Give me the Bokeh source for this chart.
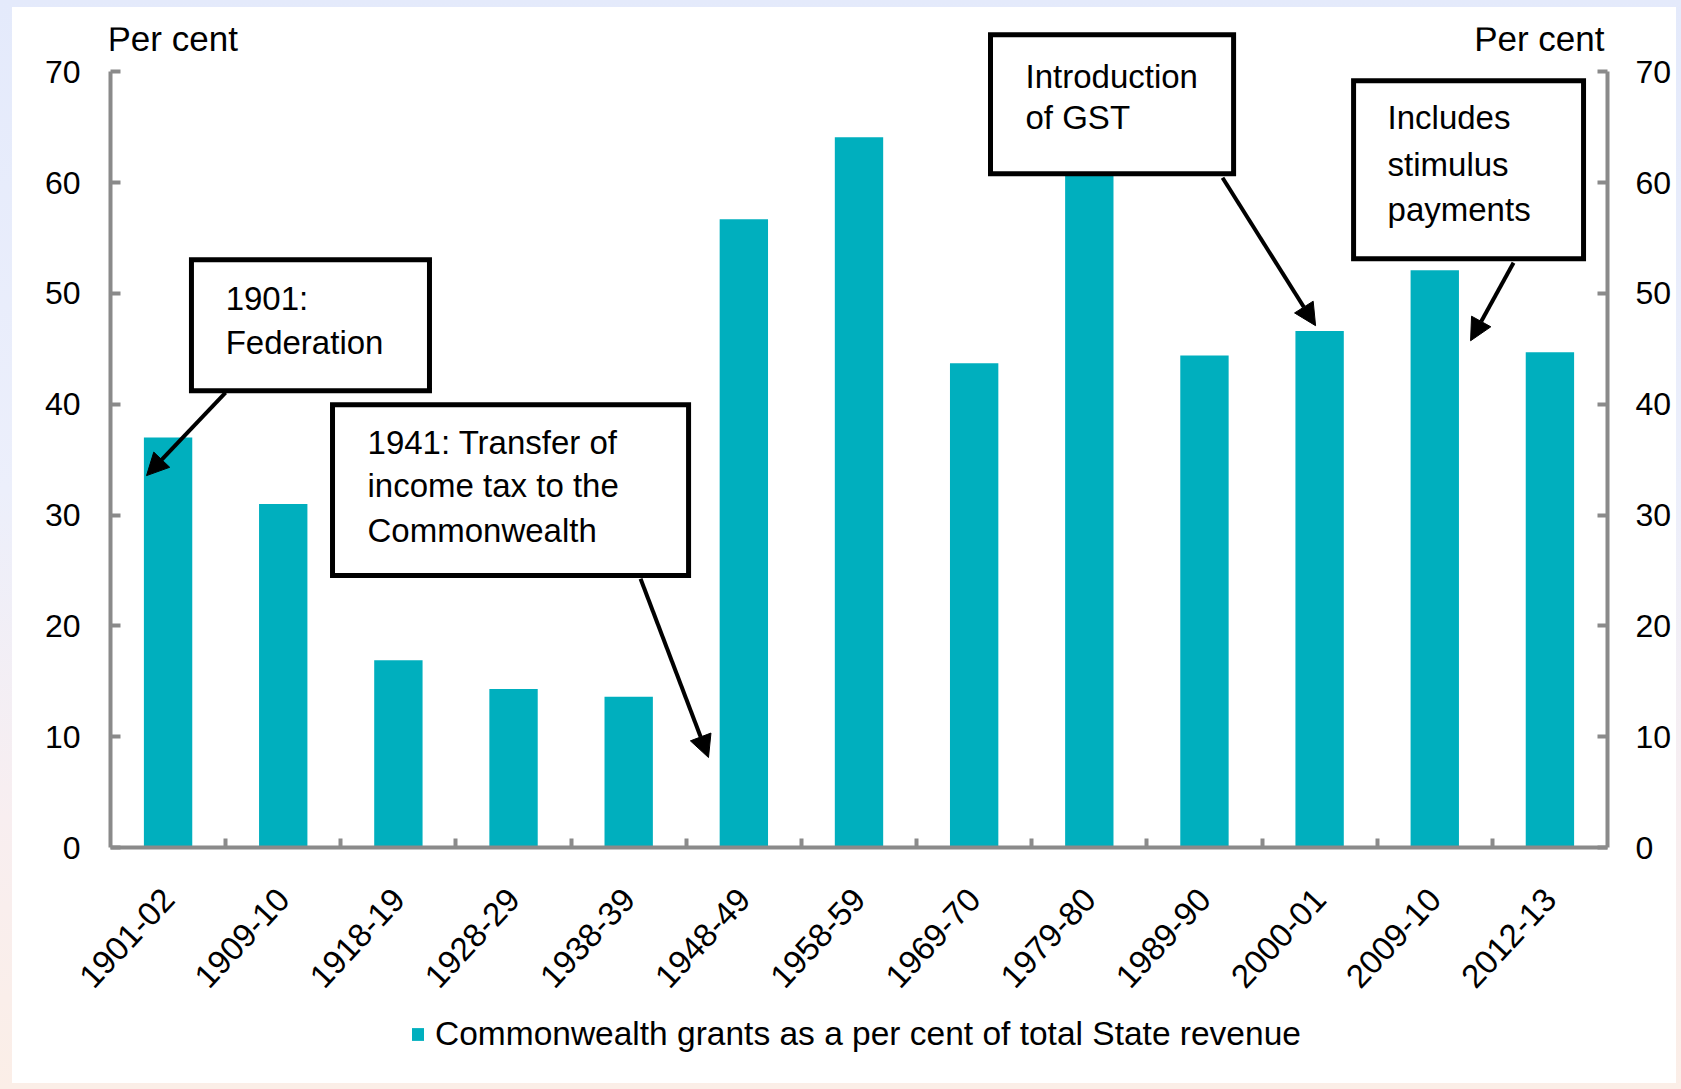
from bokeh.plotting import figure
from bokeh.layouts import column
from bokeh.models import (Range1d, LinearAxis, FixedTicker, Label, Arrow, NormalHead,
                          Legend, LegendItem, ColumnDataSource)
from bokeh.embed import file_html
from bokeh.resources import INLINE

# ---- data ----
categories = ["1901-02", "1909-10", "1918-19", "1928-29", "1938-39", "1948-49", "1958-59",
              "1969-70", "1979-80", "1989-90", "2000-01", "2009-10", "2012-13"]
grants_pct = [37.0, 31.0, 16.9, 14.3, 13.6, 56.7, 64.1, 43.7, 62.0, 44.4, 46.6, 52.1, 44.7]
y_ticks = [0, 10, 20, 30, 40, 50, 60, 70]
series_label = "Commonwealth grants as a per cent of total State revenue"
y_unit = "Per cent"

FONT = "Liberation Sans"
BAR = "#00AFBE"
AXIS = "#8A8A8A"
DY = 1.35  # baseline correction for Label text (data units)

n = len(categories)
xpos = [i + 0.5 for i in range(n)]
src = ColumnDataSource(dict(x=xpos, top=grants_pct, cat=categories))

# ---- main chart ----
p = figure(width=1664, height=998, output_backend="svg", toolbar_location=None,
           x_range=Range1d(0, n), y_range=Range1d(0, 74),
           min_border_left=98, min_border_right=69, min_border_top=20, min_border_bottom=158,
           x_axis_location=None, y_axis_location=None)
p.outline_line_color = None
p.background_fill_color = "white"
p.border_fill_color = "white"
p.xgrid.grid_line_color = None
p.ygrid.grid_line_color = None

xaxis = LinearAxis(ticker=FixedTicker(ticks=xpos, minor_ticks=list(range(1, n))),
                   major_label_overrides={x: c for x, c in zip(xpos, categories)})
xaxis.major_label_orientation = 0.82
xaxis.major_tick_line_color = None
xaxis.minor_tick_in = 9
xaxis.minor_tick_out = 0
xaxis.minor_tick_line_width = 4
xaxis.minor_tick_line_color = AXIS
xaxis.axis_line_width = 4
xaxis.axis_line_color = AXIS
xaxis.major_label_standoff = 40
xaxis.major_label_text_font = FONT
xaxis.major_label_text_font_size = "33px"
xaxis.major_label_text_color = "black"
p.add_layout(xaxis, "below")

for side, standoff in (("left", 30), ("right", 28)):
    ax = LinearAxis(ticker=FixedTicker(ticks=y_ticks), bounds=(0, 70))
    ax.major_tick_in = 10
    ax.major_tick_out = 0
    ax.major_tick_line_width = 4
    ax.major_tick_line_color = AXIS
    ax.minor_tick_line_color = None
    ax.axis_line_width = 4
    ax.axis_line_color = AXIS
    ax.major_label_standoff = standoff
    ax.major_label_text_font = FONT
    ax.major_label_text_font_size = "32px"
    ax.major_label_text_color = "black"
    p.add_layout(ax, side)

bars = p.vbar(x="x", top="top", width=0.42, bottom=0, source=src,
              fill_color=BAR, line_color=None)

p.add_layout(Label(x=-0.026, y=71.62 + DY, text=y_unit, text_font=FONT, text_font_size="35px",
                   text_align="left", text_baseline="alphabetic", text_color="black"))
p.add_layout(Label(x=12.974, y=71.62 + DY, text=y_unit, text_font=FONT, text_font_size="35px",
                   text_align="right", text_baseline="alphabetic", text_color="black"))

boxes = dict(left=[0.703, 1.928, 7.642, 10.795], right=[2.770, 5.020, 9.753, 12.792],
             top=[53.04, 39.96, 73.34, 69.19], bottom=[41.22, 24.54, 60.80, 53.13])
p.quad(source=ColumnDataSource(boxes), left="left", right="right", top="top", bottom="bottom",
       fill_color="white", line_color="black", line_width=5, line_join="miter")

callouts = [
    (1.0, [(48.17, "1901:"), (44.20, "Federation")]),
    (2.232, [(35.18, "1941: Transfer of"), (31.30, "income tax to the"), (27.24, "Commonwealth")]),
    (7.946, [(68.19, "Introduction"), (64.50, "of GST")]),
    (11.09, [(64.50, "Includes"), (60.26, "stimulus"), (56.20, "payments")]),
]
for x, lines in callouts:
    for y, t in lines:
        p.add_layout(Label(x=x, y=y + DY, text=t, text_font=FONT, text_font_size="33px",
                           text_align="left", text_baseline="alphabetic", text_color="black"))

arrows = [(0.999, 41.04, 0.313, 33.56), (4.603, 24.26, 5.193, 8.12),
          (9.657, 60.44, 10.465, 47.09), (12.184, 52.77, 11.811, 45.73)]
for xs, ys, xe, ye in arrows:
    p.add_layout(Arrow(end=NormalHead(size=22, fill_color="black", line_color="black", line_width=1),
                       x_start=xs, y_start=ys, x_end=xe, y_end=ye,
                       line_color="black", line_width=4))

# ---- legend strip ----
pl = figure(width=1664, height=78, output_backend="svg", toolbar_location=None,
            x_range=Range1d(0, 1), y_range=Range1d(0, 1), min_border=0,
            x_axis_location=None, y_axis_location=None)
pl.outline_line_color = None
pl.background_fill_color = "white"
pl.border_fill_color = "white"
pl.xgrid.grid_line_color = None
pl.ygrid.grid_line_color = None
swatch = pl.vbar(x=[0.5], top=[0], bottom=[0], width=0.01, fill_color=BAR, line_color=None)
legend = Legend(items=[LegendItem(label=series_label, renderers=[swatch])],
                location=(300, 29), orientation="horizontal",
                glyph_width=15, glyph_height=16, label_standoff=10, padding=0, margin=0,
                label_height=40, border_line_color=None, background_fill_alpha=0,
                label_text_font=FONT, label_text_font_size="33.5px", label_text_color="black")
pl.add_layout(legend, "center")

inner = column(p, pl, spacing=0, margin=(7, 5, 6, 12), styles={"background": "white"})
page = column(inner, spacing=0,
              styles={"background": "linear-gradient(to bottom, #E4EAFB 0%, #ECEFFB 45%, #F8EEF0 75%, #FBEEE7 100%)"})

open("out.html", "w").write(file_html(page, INLINE))
